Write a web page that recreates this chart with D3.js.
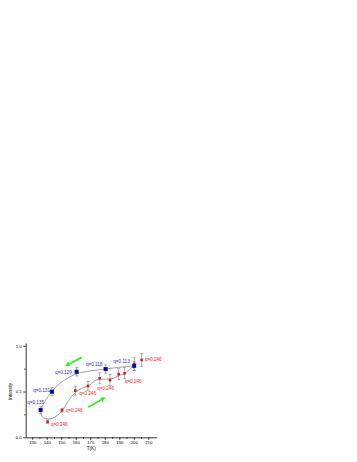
<!DOCTYPE html>
<html>
<head>
<meta charset="utf-8">
<script src="https://cdn.jsdelivr.net/npm/d3@7"></script>
<style>
  body { margin: 0; background: #fff; }
  svg { display: block; font-family: "Liberation Sans", Arial, sans-serif; }
</style>
</head>
<body>
<div id="chart"></div>
<script>
// cooling (blue) and heating (red) points, T in K
const blueT = [135.8, 143.6, 160.6, 180.6, 200.3];
const blueI = [0.298, 0.498, 0.716, 0.745, 0.78];
const blueErr = [0.04, 0.045, 0.045, 0.045, 0.05];
const blueLabels = ["q=0.135", "q=0.131", "q=0.129", "q=0.118", "q=0.113"];
const blueLabelT = [126.6, 130.7, 145.7, 167, 185.9];
const blueLabelI = [0.378, 0.516, 0.71, 0.8, 0.825];

const redT = [140.6, 150.5, 159.7, 168.4, 176.5, 183.6, 189.6, 193.7, 200.3, 205.4];
const redI = [0.17, 0.295, 0.51, 0.56, 0.645, 0.625, 0.69, 0.7, 0.8, 0.845];
const redErr = [0.02, 0.02, 0.05, 0.05, 0.06, 0.06, 0.06, 0.06, 0.07, 0.07];
const redLabels = ["q=0.246", "q=0.246", "q=0.246", "q=0.246", "q=0.246", "q=0.246"];
const redLabelT = [142.9, 153.2, 162.4, 174.8, 193.9, 207.7];
const redLabelI = [0.142, 0.29, 0.476, 0.538, 0.611, 0.852];

// guide-to-the-eye loop
const loopT = [200.3, 190, 180, 170, 160, 150, 143.6, 139, 136.3, 136.2, 138, 141, 145, 150.5, 155, 159.7, 164, 168.4, 174, 180, 185, 190, 194, 200.3];
const loopI = [0.78, 0.765, 0.745, 0.725, 0.69, 0.6, 0.5, 0.4, 0.31, 0.25, 0.21, 0.2, 0.215, 0.29, 0.4, 0.49, 0.535, 0.56, 0.625, 0.635, 0.64, 0.675, 0.7, 0.79];

// sweep arrows: [T, I] tail -> head
const arrowFrom = [[164.1, 0.873], [168.6, 0.328]];
const arrowTo = [[152.6, 0.778], [180.6, 0.437]];

const xTicks = [130, 140, 150, 160, 170, 180, 190, 200, 210];
const yTicks = [0, 0.5, 1.0];

const width = 357, height = 462;
const plot = { left: 25.7, right: 156.7, top: 343, bottom: 437.3 };

const svg = d3.select("#chart").append("svg")
  .attr("width", width)
  .attr("height", height);

const x = d3.scaleLinear().domain([125.5, 215.8]).range([plot.left, plot.right]);
const y = d3.scaleLinear().domain([0, 1.03]).range([plot.bottom, plot.top]);

// axes
svg.append("g")
  .attr("transform", `translate(0, ${plot.bottom})`)
  .call(d3.axisBottom(x).tickValues(xTicks).tickSize(2.5).tickSizeOuter(0).tickPadding(1.5).tickFormat(d3.format("d")));
svg.append("g")
  .attr("transform", `translate(0, ${plot.bottom})`)
  .call(d3.axisBottom(x).tickValues(d3.range(135, 215, 10)).tickSize(1.5).tickSizeOuter(0).tickFormat(""))
  .select(".domain").remove();

svg.append("g")
  .attr("transform", `translate(${plot.left}, 0)`)
  .call(d3.axisLeft(y).tickValues(yTicks).tickSize(2.5).tickSizeOuter(0).tickPadding(1.5).tickFormat(d3.format(".1f")));
svg.append("g")
  .attr("transform", `translate(${plot.left}, 0)`)
  .call(d3.axisLeft(y).tickValues([0.25, 0.75]).tickSize(1.5).tickSizeOuter(0).tickFormat(""))
  .select(".domain").remove();

svg.selectAll(".domain, .tick line").attr("stroke", "#000").attr("stroke-width", 0.8);
svg.selectAll(".tick text").attr("font-size", "4.3px").attr("fill", "#000")
  .attr("font-family", "Liberation Sans, Arial, sans-serif");

svg.append("text")
  .attr("x", x(170) + 1)
  .attr("y", 450)
  .attr("text-anchor", "middle")
  .attr("font-size", "4.6px")
  .text("T(K)");

svg.append("text")
  .attr("transform", `translate(12, ${y(0.5)}) rotate(-90)`)
  .attr("text-anchor", "middle")
  .attr("font-size", "4.6px")
  .text("Intensity");

// loop curve
const line = d3.line()
  .x((d) => x(d[0]))
  .y((d) => y(d[1]))
  .curve(d3.curveCatmullRom.alpha(0.5));

svg.append("path")
  .datum(loopT.map((t, i) => [t, loopI[i]]))
  .attr("d", line)
  .attr("fill", "none")
  .attr("stroke", "#777")
  .attr("stroke-width", 0.7);

// error bars
function errorBars(ts, is, errs) {
  const g = svg.append("g").attr("stroke", "#777").attr("stroke-width", 0.6);
  ts.forEach((t, i) => {
    const cx = x(t);
    g.append("line").attr("x1", cx).attr("x2", cx)
      .attr("y1", y(is[i] - errs[i])).attr("y2", y(is[i] + errs[i]));
    [is[i] - errs[i], is[i] + errs[i]].forEach((v) => {
      g.append("line").attr("x1", cx - 1.5).attr("x2", cx + 1.5)
        .attr("y1", y(v)).attr("y2", y(v));
    });
  });
}
errorBars(redT, redI, redErr);
errorBars(blueT, blueI, blueErr);

// red points
svg.append("g")
  .selectAll("rect")
  .data(redT)
  .join("rect")
  .attr("x", (d) => x(d) - 1.3)
  .attr("y", (d, i) => y(redI[i]) - 1.3)
  .attr("width", 2.6)
  .attr("height", 2.6)
  .attr("fill", "#ee1111");

// blue points
svg.append("g")
  .selectAll("rect")
  .data(blueT)
  .join("rect")
  .attr("x", (d) => x(d) - 2)
  .attr("y", (d, i) => y(blueI[i]) - 2)
  .attr("width", 4)
  .attr("height", 4)
  .attr("fill", "#0a0a9a");

// labels
svg.append("g")
  .selectAll("text")
  .data(blueLabels)
  .join("text")
  .attr("x", (d, i) => x(blueLabelT[i]))
  .attr("y", (d, i) => y(blueLabelI[i]))
  .attr("dy", "0.35em")
  .attr("font-size", "4.6px")
  .attr("fill", "#2a2ae0")
  .text((d) => d);

svg.append("g")
  .selectAll("text")
  .data(redLabels)
  .join("text")
  .attr("x", (d, i) => x(redLabelT[i]))
  .attr("y", (d, i) => y(redLabelI[i]))
  .attr("dy", "0.35em")
  .attr("font-size", "4.6px")
  .attr("fill", "#ee1b1b")
  .text((d) => d);

// green arrows
arrowFrom.forEach((from, k) => {
  const to = arrowTo[k];
  const x1 = x(from[0]), y1 = y(from[1]), x2 = x(to[0]), y2 = y(to[1]);
  const ang = Math.atan2(y2 - y1, x2 - x1);
  const hl = 5, hw = 2.6;
  const bx = x2 - hl * Math.cos(ang), by = y2 - hl * Math.sin(ang);
  svg.append("line")
    .attr("x1", x1).attr("y1", y1).attr("x2", bx).attr("y2", by)
    .attr("stroke", "#33ee22").attr("stroke-width", 1.8);
  const px = -Math.sin(ang) * hw, py = Math.cos(ang) * hw;
  svg.append("polygon")
    .attr("points", `${x2},${y2} ${bx + px},${by + py} ${bx - px},${by - py}`)
    .attr("fill", "#33ee22");
});
</script>
</body>
</html>
